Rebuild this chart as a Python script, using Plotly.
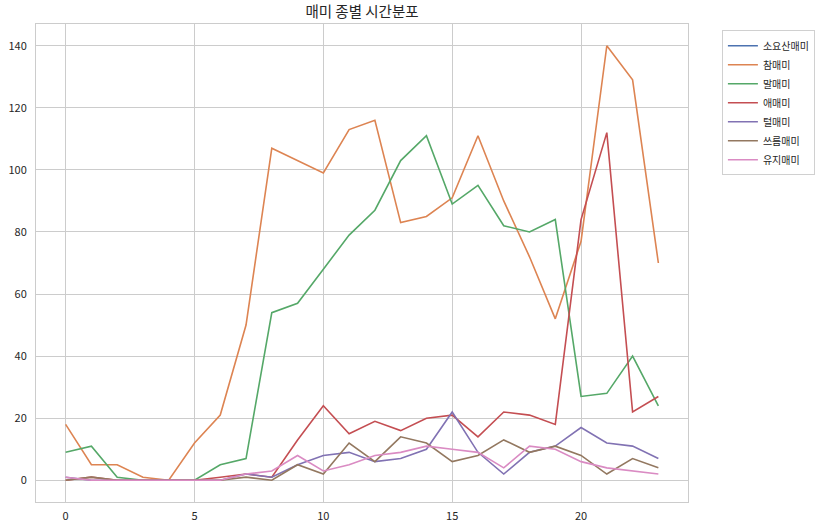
import plotly.graph_objects as go

hours = list(range(24))
series_names = ["소요산매미", "참매미", "말매미", "애매미", "털매미", "쓰름매미", "유지매미"]

# 소요산매미: no visible line in the chart (no recorded values)
soyosan = [None] * 24
cham = [18, 5, 5, 1, 0, 12, 21, 50, 107, 103, 99, 113, 116, 83, 85, 91, 111, 90, 72, 52, 77, 140, 129, 70]
mal = [9, 11, 1, 0, 0, 0, 5, 7, 54, 57, 68, 79, 87, 103, 111, 89, 95, 82, 80, 84, 27, 28, 40, 24]
ae = [0, 1, 0, 0, 0, 0, 1, 2, 1, 13, 24, 15, 19, 16, 20, 21, 14, 22, 21, 18, 84, 112, 22, 27]
teol = [1, 0, 0, 0, 0, 0, 0, 2, 1, 5, 8, 9, 6, 7, 10, 22, 9, 2, 9, 11, 17, 12, 11, 7]
sseureum = [0, 1, 0, 0, 0, 0, 0, 1, 0, 5, 2, 12, 6, 14, 12, 6, 8, 13, 9, 11, 8, 2, 7, 4]
yuji = [1, 0, 0, 0, 0, 0, 0, 2, 3, 8, 3, 5, 8, 9, 11, 10, 9, 4, 11, 10, 6, 4, 3, 2]

values = [soyosan, cham, mal, ae, teol, sseureum, yuji]
colors = ["#4C72B0", "#DD8452", "#55A868", "#C44E52", "#8172B3", "#937860", "#DA8BC3"]

font_family = "Noto Sans CJK KR, Noto Sans, sans-serif"

fig = go.Figure()
for name, vals, col in zip(series_names, values, colors):
    fig.add_trace(go.Scatter(x=hours, y=vals, mode="lines", name=name,
                             line=dict(color=col, width=1.6)))

fig.update_layout(
    width=821, height=528,
    margin=dict(l=36, r=133, t=24, b=26, autoexpand=False),
    paper_bgcolor="white", plot_bgcolor="white",
    font=dict(family=font_family, size=11, color="#262626"),
    title=dict(text="매미 종별 시간분포", xref="paper", x=0.5, xanchor="center",
               y=0.977, yanchor="middle",
               font=dict(size=14.5, color="#262626")),
    showlegend=True,
    legend=dict(x=1.052, y=0.987, xanchor="left", yanchor="top",
                bordercolor="#d0d0d0", borderwidth=1, bgcolor="white",
                font=dict(size=10), tracegroupgap=0, itemwidth=30),
)
fig.update_xaxes(range=[-1.15, 24.15], tickvals=[0, 5, 10, 15, 20], showgrid=True,
                 gridcolor="#cccccc", gridwidth=1, zeroline=False, showline=True,
                 linecolor="#cccccc", linewidth=1, mirror=True, automargin=False,
                 ticks="outside", ticklen=4, tickcolor="rgba(0,0,0,0)")
fig.update_yaxes(range=[-7, 147], tickvals=[0, 20, 40, 60, 80, 100, 120, 140], showgrid=True,
                 gridcolor="#cccccc", gridwidth=1, zeroline=False, showline=True,
                 linecolor="#cccccc", linewidth=1, mirror=True, automargin=False,
                 ticks="outside", ticklen=6, tickcolor="rgba(0,0,0,0)")

fig.write_html("out.html", config={"displayModeBar": False},
               post_script="document.body.style.margin='0';")
